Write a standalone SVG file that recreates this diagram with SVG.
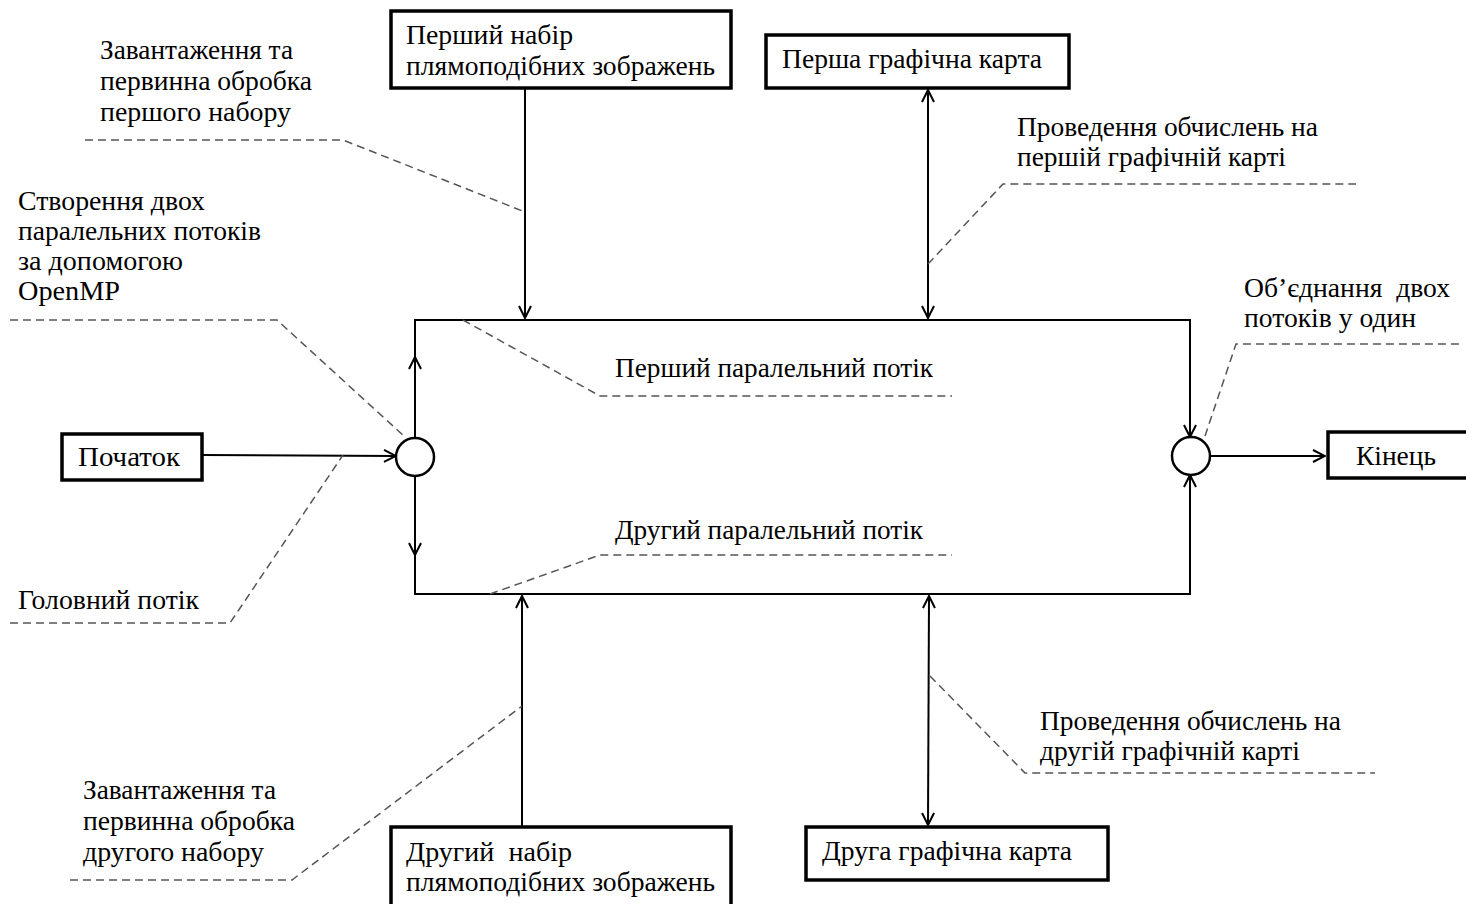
<svg xmlns="http://www.w3.org/2000/svg" width="1466" height="904" viewBox="0 0 1466 904">
<defs>
<style>
text{font-family:"Liberation Serif","Times New Roman",serif;font-size:27px;fill:#000;white-space:pre}
.box{fill:#fff;stroke:#000;stroke-width:3.5}
.ln{fill:none;stroke:#000;stroke-width:2}
.ds{fill:none;stroke:#555;stroke-width:1.5;stroke-dasharray:8 5}
.cir{fill:#fff;stroke:#000;stroke-width:2.5}
</style>
<marker id="ah" viewBox="0 0 14 14" refX="13" refY="7" markerWidth="14" markerHeight="14" markerUnits="userSpaceOnUse" orient="auto-start-reverse">
<path d="M1,1 L13,7 L1,13" fill="none" stroke="#000" stroke-width="2"/>
</marker>
</defs>
<rect width="1466" height="904" fill="#fff"/>

<g id="connectors">
<polyline class="ln" points="415,357 415,320 1190,320 1190,437"/>
<polyline class="ln" points="415,555 415,594 1190,594 1190,475"/>
<line class="ln" x1="415" y1="438" x2="415" y2="357" marker-end="url(#ah)"/>
<line class="ln" x1="415" y1="476" x2="415" y2="555" marker-end="url(#ah)"/>
<line class="ln" x1="1190" y1="420" x2="1190" y2="437" marker-end="url(#ah)"/>
<line class="ln" x1="1190" y1="490" x2="1190" y2="475" marker-end="url(#ah)"/>
<line class="ln" x1="202" y1="455" x2="396" y2="456" marker-end="url(#ah)"/>
<line class="ln" x1="1210" y1="456" x2="1325" y2="456" marker-end="url(#ah)"/>
<line class="ln" x1="525" y1="88" x2="525" y2="318" marker-end="url(#ah)"/>
<line class="ln" x1="928" y1="90" x2="928" y2="318" marker-start="url(#ah)" marker-end="url(#ah)"/>
<line class="ln" x1="522" y1="827" x2="522" y2="596" marker-end="url(#ah)"/>
<line class="ln" x1="929" y1="596" x2="928" y2="825" marker-start="url(#ah)" marker-end="url(#ah)"/>
<polyline class="ds" points="85,140 343,140 525,212"/>
<polyline class="ds" points="10,320 277,320 405,437"/>
<polyline class="ds" points="10,623 230,623 343,455"/>
<polyline class="ds" points="463,320 600,396 952,396"/>
<polyline class="ds" points="490,594 600,555 952,555"/>
<polyline class="ds" points="928,264 1003,184 1356,184"/>
<polyline class="ds" points="1205,436 1236,344 1460,344"/>
<polyline class="ds" points="930,676 1025,773 1375,773"/>
<polyline class="ds" points="70,880 292,880 522,706"/>
</g>

<g id="split"><circle class="cir" cx="415" cy="457" r="19"/></g>
<g id="join"><circle class="cir" cx="1191" cy="456" r="19"/></g>

<g id="start">
<rect class="box" x="62" y="434" width="140" height="46"/>
<text x="78" y="466" textLength="102" lengthAdjust="spacingAndGlyphs">Початок</text>
</g>
<g id="end">
<rect class="box" x="1328" y="432" width="140" height="46"/>
<text x="1356" y="465" textLength="80" lengthAdjust="spacingAndGlyphs">Кінець</text>
</g>
<g id="set1">
<rect class="box" x="391" y="11" width="340" height="77"/>
<text x="406" y="44" textLength="167" lengthAdjust="spacingAndGlyphs">Перший набір</text>
<text x="406" y="75" textLength="309" lengthAdjust="spacingAndGlyphs">плямоподібних зображень</text>
</g>
<g id="gpu1">
<rect class="box" x="766" y="35" width="303" height="53"/>
<text x="782" y="68" textLength="260" lengthAdjust="spacingAndGlyphs">Перша графічна карта</text>
</g>
<g id="set2">
<rect class="box" x="391" y="827" width="340" height="80"/>
<text x="406" y="861" textLength="166" lengthAdjust="spacingAndGlyphs" xml:space="preserve">Другий  набір</text>
<text x="406" y="891" textLength="309" lengthAdjust="spacingAndGlyphs">плямоподібних зображень</text>
</g>
<g id="gpu2">
<rect class="box" x="806" y="827" width="302" height="53"/>
<text x="822" y="860" textLength="250" lengthAdjust="spacingAndGlyphs">Друга графічна карта</text>
</g>

<g id="label-load1">
<text x="100" y="59" textLength="193" lengthAdjust="spacingAndGlyphs">Завантаження та</text>
<text x="100" y="90" textLength="212" lengthAdjust="spacingAndGlyphs">первинна обробка</text>
<text x="100" y="121" textLength="191" lengthAdjust="spacingAndGlyphs">першого набору</text>
</g>
<g id="label-omp">
<text x="18" y="210" textLength="187" lengthAdjust="spacingAndGlyphs">Створення двох</text>
<text x="18" y="240" textLength="243" lengthAdjust="spacingAndGlyphs">паралельних потоків</text>
<text x="18" y="270" textLength="165" lengthAdjust="spacingAndGlyphs">за допомогою</text>
<text x="18" y="300" textLength="102" lengthAdjust="spacingAndGlyphs">OpenMP</text>
</g>
<g id="label-main">
<text x="18" y="609" textLength="181" lengthAdjust="spacingAndGlyphs">Головний потік</text>
</g>
<g id="label-p1">
<text x="615" y="377" textLength="318" lengthAdjust="spacingAndGlyphs">Перший паралельний потік</text>
</g>
<g id="label-p2">
<text x="615" y="539" textLength="308" lengthAdjust="spacingAndGlyphs">Другий паралельний потік</text>
</g>
<g id="label-gpu1">
<text x="1017" y="136" textLength="301" lengthAdjust="spacingAndGlyphs">Проведення обчислень на</text>
<text x="1017" y="166" textLength="269" lengthAdjust="spacingAndGlyphs">першій графічній карті</text>
</g>
<g id="label-join">
<text x="1244" y="297" textLength="206" lengthAdjust="spacingAndGlyphs" xml:space="preserve">Об’єднання  двох</text>
<text x="1244" y="327" textLength="172" lengthAdjust="spacingAndGlyphs">потоків у один</text>
</g>
<g id="label-gpu2">
<text x="1040" y="730" textLength="301" lengthAdjust="spacingAndGlyphs">Проведення обчислень на</text>
<text x="1040" y="760" textLength="260" lengthAdjust="spacingAndGlyphs">другій графічній карті</text>
</g>
<g id="label-load2">
<text x="83" y="799" textLength="193" lengthAdjust="spacingAndGlyphs">Завантаження та</text>
<text x="83" y="830" textLength="212" lengthAdjust="spacingAndGlyphs">первинна обробка</text>
<text x="83" y="861" textLength="181" lengthAdjust="spacingAndGlyphs">другого набору</text>
</g>
</svg>
